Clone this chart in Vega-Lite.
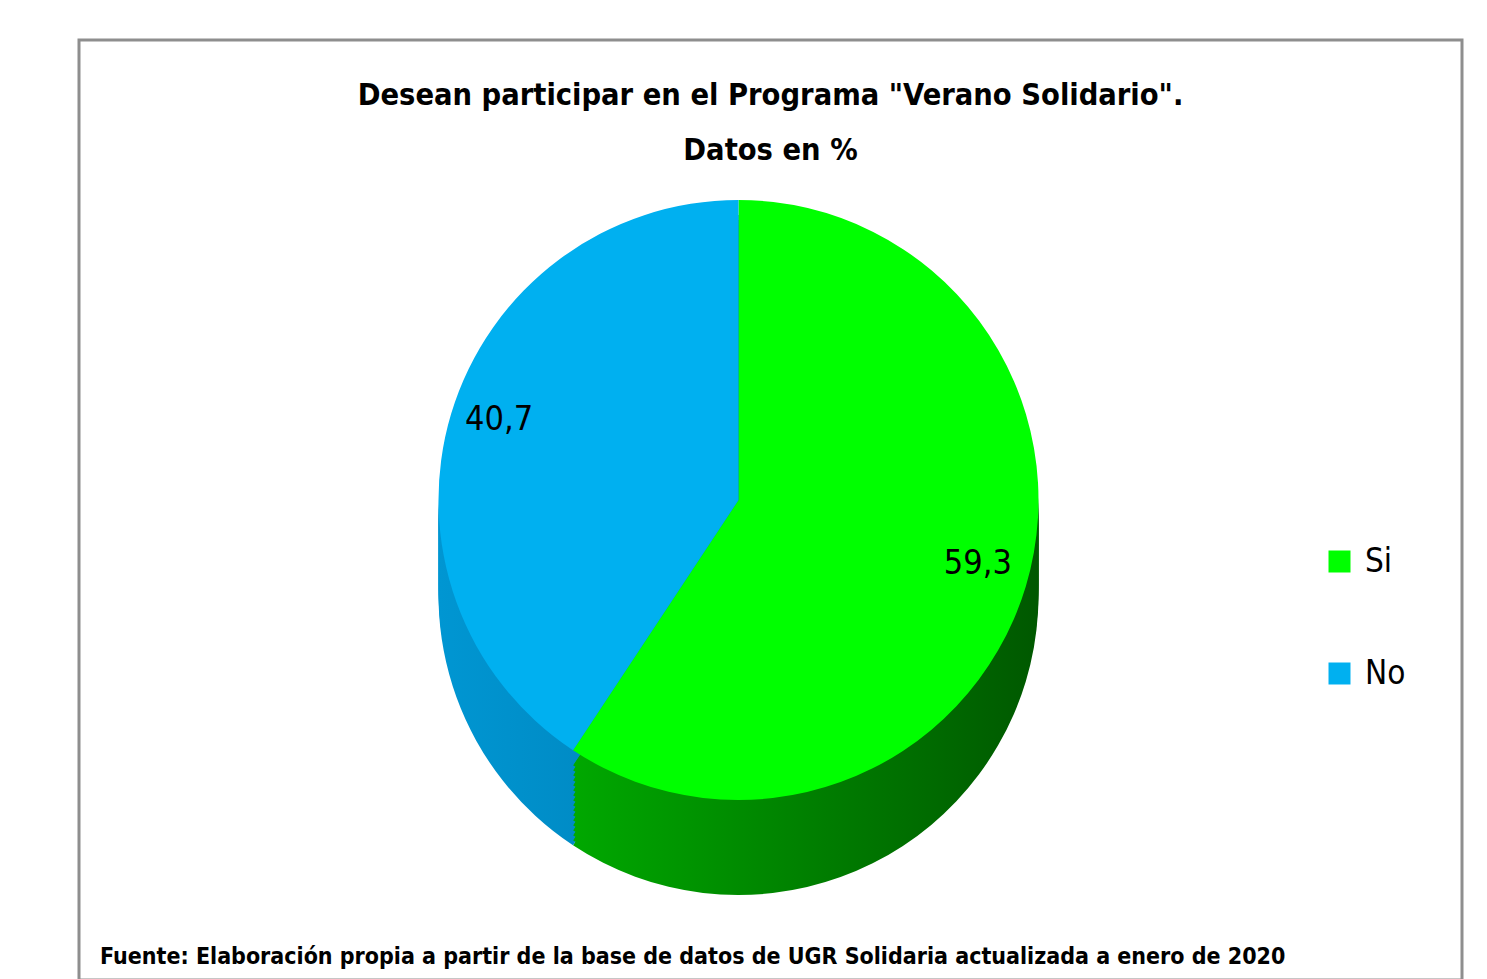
{
  "$schema": "https://vega.github.io/schema/vega-lite/v6.json",
  "padding": {"left": 77, "top": 38, "right": 27, "bottom": 0},
  "background": "white",
  "config": {
    "view": {"stroke": "#8e8e8e", "strokeWidth": 3},
    "locale": {"number": {"decimal": ",", "thousands": ".", "grouping": [3], "currency": ["", " €"]}},
    "font": "DejaVu Sans Condensed, Roboto, sans-serif"
  },
  "title": {
    "text": ["Desean participar en el Programa \"Verano Solidario\".", "Datos en %"],
    "orient": "top",
    "anchor": "middle",
    "offset": -128,
    "fontSize": 30.5,
    "lineHeight": 55,
    "fontWeight": "bold",
    "font": "DejaVu Sans Condensed, Roboto, sans-serif",
    "color": "black"
  },
  "vconcat": [
    {
      "width": 1383,
      "height": 940,
      "view": {"stroke": "#8e8e8e", "strokeWidth": 3},
      "title": {
        "text": "Fuente: Elaboración  propia a partir de la base de datos de UGR Solidaria  actualizada a enero de 2020",
        "orient": "bottom",
        "anchor": "start",
        "offset": -34,
        "dx": 21,
        "fontSize": 23,
        "fontWeight": "bold",
        "font": "DejaVu Sans Condensed, Roboto, sans-serif",
        "color": "black"
      },
      "data": {"values": [
        {"respuesta": "Si", "valor": 59.3},
        {"respuesta": "No", "valor": 40.7}
      ]},
      "encoding": {
        "theta": {"field": "valor", "type": "quantitative", "stack": true},
        "order": {"field": "respuesta", "sort": "descending"}
      },
      "layer": [
        {"mark": {"type": "arc", "outerRadius": 300, "xOffset": -32, "yOffset": 85},
         "encoding": {"fill": {"condition": {"test": "datum.respuesta === 'Si'", "value": {"gradient": "linear", "x1": 0, "x2": 1, "y1": 0, "y2": 0, "stops": [{"offset": 0, "color": "#00a800"}, {"offset": 1, "color": "#005800"}]}}, "value": {"gradient": "linear", "x1": 0, "x2": 1, "y1": 0, "y2": 0, "stops": [{"offset": 0, "color": "#0096d2"}, {"offset": 1, "color": "#0080b8"}]}}}},
        {"mark": {"type": "arc", "outerRadius": 300, "xOffset": -32, "yOffset": 80},
         "encoding": {"fill": {"condition": {"test": "datum.respuesta === 'Si'", "value": {"gradient": "linear", "x1": 0, "x2": 1, "y1": 0, "y2": 0, "stops": [{"offset": 0, "color": "#00a800"}, {"offset": 1, "color": "#005800"}]}}, "value": {"gradient": "linear", "x1": 0, "x2": 1, "y1": 0, "y2": 0, "stops": [{"offset": 0, "color": "#0096d2"}, {"offset": 1, "color": "#0080b8"}]}}}},
        {"mark": {"type": "arc", "outerRadius": 300, "xOffset": -32, "yOffset": 75},
         "encoding": {"fill": {"condition": {"test": "datum.respuesta === 'Si'", "value": {"gradient": "linear", "x1": 0, "x2": 1, "y1": 0, "y2": 0, "stops": [{"offset": 0, "color": "#00a800"}, {"offset": 1, "color": "#005800"}]}}, "value": {"gradient": "linear", "x1": 0, "x2": 1, "y1": 0, "y2": 0, "stops": [{"offset": 0, "color": "#0096d2"}, {"offset": 1, "color": "#0080b8"}]}}}},
        {"mark": {"type": "arc", "outerRadius": 300, "xOffset": -32, "yOffset": 70},
         "encoding": {"fill": {"condition": {"test": "datum.respuesta === 'Si'", "value": {"gradient": "linear", "x1": 0, "x2": 1, "y1": 0, "y2": 0, "stops": [{"offset": 0, "color": "#00a800"}, {"offset": 1, "color": "#005800"}]}}, "value": {"gradient": "linear", "x1": 0, "x2": 1, "y1": 0, "y2": 0, "stops": [{"offset": 0, "color": "#0096d2"}, {"offset": 1, "color": "#0080b8"}]}}}},
        {"mark": {"type": "arc", "outerRadius": 300, "xOffset": -32, "yOffset": 65},
         "encoding": {"fill": {"condition": {"test": "datum.respuesta === 'Si'", "value": {"gradient": "linear", "x1": 0, "x2": 1, "y1": 0, "y2": 0, "stops": [{"offset": 0, "color": "#00a800"}, {"offset": 1, "color": "#005800"}]}}, "value": {"gradient": "linear", "x1": 0, "x2": 1, "y1": 0, "y2": 0, "stops": [{"offset": 0, "color": "#0096d2"}, {"offset": 1, "color": "#0080b8"}]}}}},
        {"mark": {"type": "arc", "outerRadius": 300, "xOffset": -32, "yOffset": 60},
         "encoding": {"fill": {"condition": {"test": "datum.respuesta === 'Si'", "value": {"gradient": "linear", "x1": 0, "x2": 1, "y1": 0, "y2": 0, "stops": [{"offset": 0, "color": "#00a800"}, {"offset": 1, "color": "#005800"}]}}, "value": {"gradient": "linear", "x1": 0, "x2": 1, "y1": 0, "y2": 0, "stops": [{"offset": 0, "color": "#0096d2"}, {"offset": 1, "color": "#0080b8"}]}}}},
        {"mark": {"type": "arc", "outerRadius": 300, "xOffset": -32, "yOffset": 55},
         "encoding": {"fill": {"condition": {"test": "datum.respuesta === 'Si'", "value": {"gradient": "linear", "x1": 0, "x2": 1, "y1": 0, "y2": 0, "stops": [{"offset": 0, "color": "#00a800"}, {"offset": 1, "color": "#005800"}]}}, "value": {"gradient": "linear", "x1": 0, "x2": 1, "y1": 0, "y2": 0, "stops": [{"offset": 0, "color": "#0096d2"}, {"offset": 1, "color": "#0080b8"}]}}}},
        {"mark": {"type": "arc", "outerRadius": 300, "xOffset": -32, "yOffset": 50},
         "encoding": {"fill": {"condition": {"test": "datum.respuesta === 'Si'", "value": {"gradient": "linear", "x1": 0, "x2": 1, "y1": 0, "y2": 0, "stops": [{"offset": 0, "color": "#00a800"}, {"offset": 1, "color": "#005800"}]}}, "value": {"gradient": "linear", "x1": 0, "x2": 1, "y1": 0, "y2": 0, "stops": [{"offset": 0, "color": "#0096d2"}, {"offset": 1, "color": "#0080b8"}]}}}},
        {"mark": {"type": "arc", "outerRadius": 300, "xOffset": -32, "yOffset": 45},
         "encoding": {"fill": {"condition": {"test": "datum.respuesta === 'Si'", "value": {"gradient": "linear", "x1": 0, "x2": 1, "y1": 0, "y2": 0, "stops": [{"offset": 0, "color": "#00a800"}, {"offset": 1, "color": "#005800"}]}}, "value": {"gradient": "linear", "x1": 0, "x2": 1, "y1": 0, "y2": 0, "stops": [{"offset": 0, "color": "#0096d2"}, {"offset": 1, "color": "#0080b8"}]}}}},
        {"mark": {"type": "arc", "outerRadius": 300, "xOffset": -32, "yOffset": 40},
         "encoding": {"fill": {"condition": {"test": "datum.respuesta === 'Si'", "value": {"gradient": "linear", "x1": 0, "x2": 1, "y1": 0, "y2": 0, "stops": [{"offset": 0, "color": "#00a800"}, {"offset": 1, "color": "#005800"}]}}, "value": {"gradient": "linear", "x1": 0, "x2": 1, "y1": 0, "y2": 0, "stops": [{"offset": 0, "color": "#0096d2"}, {"offset": 1, "color": "#0080b8"}]}}}},
        {"mark": {"type": "arc", "outerRadius": 300, "xOffset": -32, "yOffset": 35},
         "encoding": {"fill": {"condition": {"test": "datum.respuesta === 'Si'", "value": {"gradient": "linear", "x1": 0, "x2": 1, "y1": 0, "y2": 0, "stops": [{"offset": 0, "color": "#00a800"}, {"offset": 1, "color": "#005800"}]}}, "value": {"gradient": "linear", "x1": 0, "x2": 1, "y1": 0, "y2": 0, "stops": [{"offset": 0, "color": "#0096d2"}, {"offset": 1, "color": "#0080b8"}]}}}},
        {"mark": {"type": "arc", "outerRadius": 300, "xOffset": -32, "yOffset": 30},
         "encoding": {"fill": {"condition": {"test": "datum.respuesta === 'Si'", "value": {"gradient": "linear", "x1": 0, "x2": 1, "y1": 0, "y2": 0, "stops": [{"offset": 0, "color": "#00a800"}, {"offset": 1, "color": "#005800"}]}}, "value": {"gradient": "linear", "x1": 0, "x2": 1, "y1": 0, "y2": 0, "stops": [{"offset": 0, "color": "#0096d2"}, {"offset": 1, "color": "#0080b8"}]}}}},
        {"mark": {"type": "arc", "outerRadius": 300, "xOffset": -32, "yOffset": 25},
         "encoding": {"fill": {"condition": {"test": "datum.respuesta === 'Si'", "value": {"gradient": "linear", "x1": 0, "x2": 1, "y1": 0, "y2": 0, "stops": [{"offset": 0, "color": "#00a800"}, {"offset": 1, "color": "#005800"}]}}, "value": {"gradient": "linear", "x1": 0, "x2": 1, "y1": 0, "y2": 0, "stops": [{"offset": 0, "color": "#0096d2"}, {"offset": 1, "color": "#0080b8"}]}}}},
        {"mark": {"type": "arc", "outerRadius": 300, "xOffset": -32, "yOffset": 20},
         "encoding": {"fill": {"condition": {"test": "datum.respuesta === 'Si'", "value": {"gradient": "linear", "x1": 0, "x2": 1, "y1": 0, "y2": 0, "stops": [{"offset": 0, "color": "#00a800"}, {"offset": 1, "color": "#005800"}]}}, "value": {"gradient": "linear", "x1": 0, "x2": 1, "y1": 0, "y2": 0, "stops": [{"offset": 0, "color": "#0096d2"}, {"offset": 1, "color": "#0080b8"}]}}}},
        {"mark": {"type": "arc", "outerRadius": 300, "xOffset": -32, "yOffset": 15},
         "encoding": {"fill": {"condition": {"test": "datum.respuesta === 'Si'", "value": {"gradient": "linear", "x1": 0, "x2": 1, "y1": 0, "y2": 0, "stops": [{"offset": 0, "color": "#00a800"}, {"offset": 1, "color": "#005800"}]}}, "value": {"gradient": "linear", "x1": 0, "x2": 1, "y1": 0, "y2": 0, "stops": [{"offset": 0, "color": "#0096d2"}, {"offset": 1, "color": "#0080b8"}]}}}},
        {"mark": {"type": "arc", "outerRadius": 300, "xOffset": -32, "yOffset": 10},
         "encoding": {"fill": {"condition": {"test": "datum.respuesta === 'Si'", "value": {"gradient": "linear", "x1": 0, "x2": 1, "y1": 0, "y2": 0, "stops": [{"offset": 0, "color": "#00a800"}, {"offset": 1, "color": "#005800"}]}}, "value": {"gradient": "linear", "x1": 0, "x2": 1, "y1": 0, "y2": 0, "stops": [{"offset": 0, "color": "#0096d2"}, {"offset": 1, "color": "#0080b8"}]}}}},
        {"mark": {"type": "arc", "outerRadius": 300, "xOffset": -32, "yOffset": 5},
         "encoding": {"fill": {"condition": {"test": "datum.respuesta === 'Si'", "value": {"gradient": "linear", "x1": 0, "x2": 1, "y1": 0, "y2": 0, "stops": [{"offset": 0, "color": "#00a800"}, {"offset": 1, "color": "#005800"}]}}, "value": {"gradient": "linear", "x1": 0, "x2": 1, "y1": 0, "y2": 0, "stops": [{"offset": 0, "color": "#0096d2"}, {"offset": 1, "color": "#0080b8"}]}}}},
        {"mark": {"type": "arc", "outerRadius": 300, "xOffset": -32, "yOffset": -10},
         "encoding": {
           "color": {
             "field": "respuesta", "type": "nominal",
             "scale": {"domain": ["Si", "No"], "range": ["#00ff00", "#00b0f0"]},
             "legend": {
               "title": null, "orient": "none", "legendX": 1244, "legendY": 505,
               "padding": 0, "symbolType": "square", "symbolSize": 484, "symbolStrokeWidth": 0,
               "labelFontSize": 33, "labelFont": "DejaVu Sans Condensed, Roboto, sans-serif", "labelColor": "black",
               "labelOffset": 9, "rowPadding": 78
             }
           }
         }},
        {"mark": {"type": "text", "radius": 250, "xOffset": -32, "yOffset": -18, "fontSize": 34, "font": "DejaVu Sans Condensed, Roboto, sans-serif", "color": "black"},
         "encoding": {"text": {"field": "valor", "type": "quantitative", "format": ".1f"}}}
      ]
    }
  ]
}
